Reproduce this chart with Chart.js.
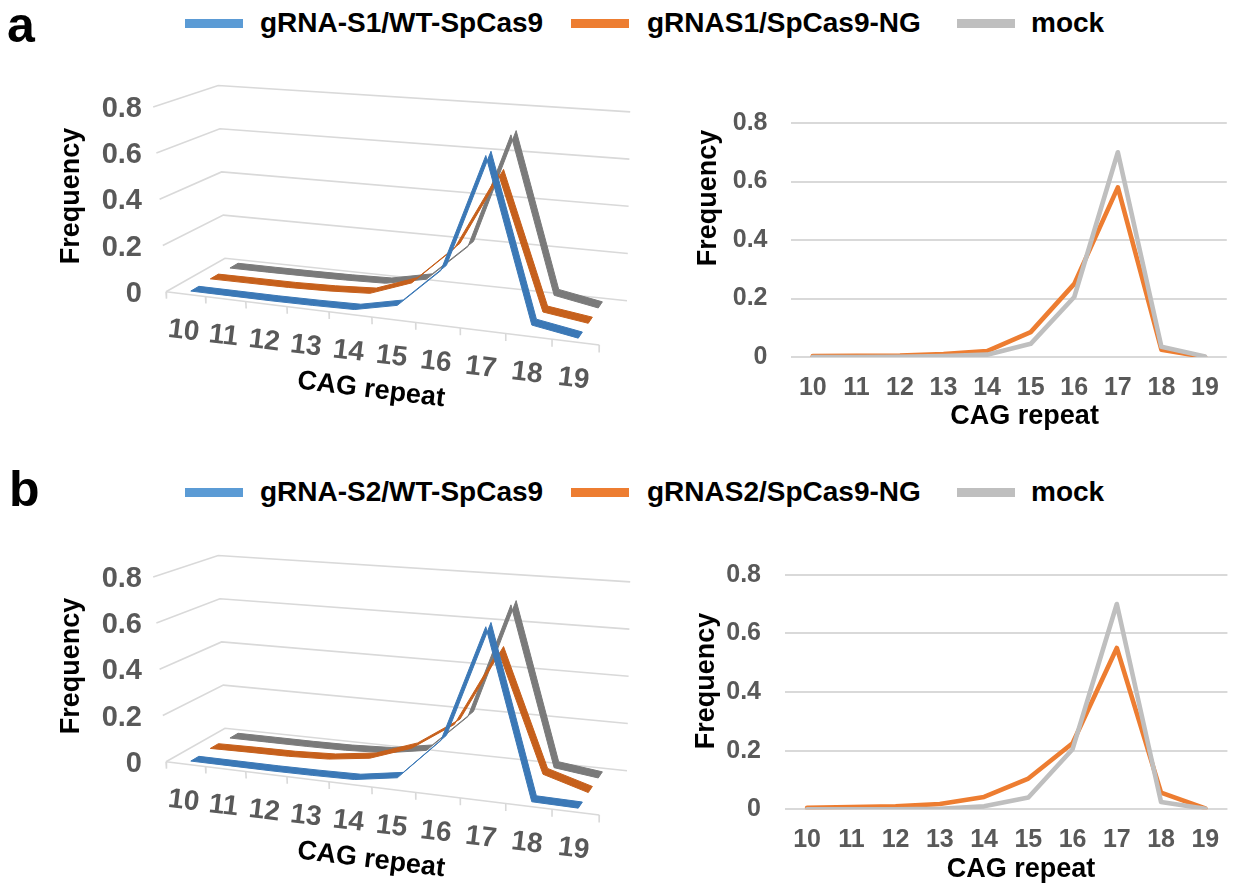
<!DOCTYPE html>
<html><head><meta charset="utf-8">
<script src="https://cdn.jsdelivr.net/npm/chart.js@4.4.1/dist/chart.umd.min.js"></script>
<style>
html,body{margin:0;padding:0;background:#fff;width:1235px;height:886px;overflow:hidden;font-family:"Liberation Sans",Arial,sans-serif;}
canvas{position:absolute;}
.panel{position:absolute;font-weight:bold;font-size:50px;line-height:1;color:#000;}
.item{position:absolute;font-weight:bold;font-size:28px;line-height:1;color:#000;white-space:nowrap;}
.sw{position:absolute;height:9px;width:58px;}
</style></head>
<body>
<div class="panel" style="left:7px;top:0px;">a</div>
<div class="panel" style="left:9px;top:464px;">b</div>
<div id="legA"></div><div id="legB"></div>
<canvas id="c3a" width="680" height="440" style="left:0;top:0;"></canvas>
<canvas id="c2a" width="555" height="370" style="left:680px;top:60px;"></canvas>
<canvas id="c3b" width="680" height="416" style="left:0;top:470px;"></canvas>
<canvas id="c2b" width="555" height="356" style="left:680px;top:530px;"></canvas>
<script>
// ---------- data ----------
const categories = ['10','11','12','13','14','15','16','17','18','19'];
const yTicks = [0, 0.2, 0.4, 0.6, 0.8];
const yTickLabels = ['0','0.2','0.4','0.6','0.8'];
const namesA = ['gRNA-S1/WT-SpCas9','gRNAS1/SpCas9-NG','mock'];
const namesB = ['gRNA-S2/WT-SpCas9','gRNAS2/SpCas9-NG','mock'];
const wtA   = [0.000, 0.000, 0.000, 0.002, 0.006, 0.045, 0.210, 0.700, 0.030, 0.000];
const ngA   = [0.003, 0.004, 0.005, 0.010, 0.020, 0.085, 0.250, 0.580, 0.025, 0.000];
const mockA = [0.000, 0.000, 0.001, 0.003, 0.008, 0.045, 0.205, 0.700, 0.035, 0.002];
const wtB   = [0.000, 0.000, 0.000, 0.002, 0.006, 0.035, 0.210, 0.695, 0.003, 0.000];
const ngB   = [0.005, 0.008, 0.010, 0.018, 0.042, 0.105, 0.225, 0.550, 0.057, 0.003];
const mockB = [0.000, 0.000, 0.000, 0.002, 0.010, 0.040, 0.205, 0.700, 0.025, 0.002];

// ---------- styles ----------
const legendColors = ['#5B9BD5','#ED7D31','#BFBFBF'];
const ribbonColors = ['#3b78b6','#c6601c','#7a7a7a'];
const FONT = '"Liberation Sans", Arial, sans-serif';

// ---------- legend (HTML text) ----------
function legend(id, names, top){
  const el = document.getElementById(id);
  const swLeft = [185, 571, 957], txLeft = [260, 647, 1031];
  names.forEach((n,i)=>{
    const s = document.createElement('div'); s.className='sw';
    s.style.left = swLeft[i]+'px'; s.style.top = (top+9.7)+'px'; s.style.background = legendColors[i];
    el.appendChild(s);
    const t = document.createElement('div'); t.className='item';
    t.style.left = txLeft[i]+'px'; t.style.top = top+'px'; t.textContent = n;
    el.appendChild(t);
  });
}
legend('legA', namesA, 9.3);
legend('legB', namesB, 478.3);

// ---------- 3D perspective projection (category X, depth Z 0..1, value v) ----------
const G = {A:[166,291.7], B:[225,258.3], C:[599.3,345], D:[627,300.7],
  sA:231, sB:216, sC:252, sD:236, lA:-16, lB:-8.5, lC:5, lD:4, c:0.11, nX:10};
function proj(X, Z, v){
  const t = X / G.nX, tx = t*(1+G.c*t)/(1+G.c);
  const fx = G.A[0]+tx*(G.C[0]-G.A[0]), fy = G.A[1]+tx*(G.C[1]-G.A[1]);
  const bx = G.B[0]+tx*(G.D[0]-G.B[0]), by = G.B[1]+tx*(G.D[1]-G.B[1]);
  const px = fx+Z*(bx-fx), py = fy+Z*(by-fy);
  const sf = G.sA+tx*(G.sC-G.sA), sb = G.sB+tx*(G.sD-G.sB), s = sf+Z*(sb-sf);
  const lf = G.lA+tx*(G.lC-G.lA), lb = G.lB+tx*(G.lD-G.lB), l = lf+Z*(lb-lf);
  return {x: px + v*l, y: py - v*s};
}
const depthZ = [0.16, 0.5, 0.84];
const ribbonW = 0.14;
function ribbon(vals, z){
  const pts = [];
  vals.forEach((v,i)=>pts.push(proj(i+0.5, z-ribbonW/2, v)));
  for(let i=vals.length-1;i>=0;i--) pts.push(proj(i+0.5, z+ribbonW/2, vals[i]));
  pts.push(pts[0]);
  return pts;
}

function build3D(id, series){
  const cv = document.getElementById(id);
  const W = cv.width, H = cv.height;
  const ds = [];
  const grid = {borderColor:'#d9d9d9', borderWidth:1.6, pointRadius:0, showLine:true, fill:false, order:100};
  yTicks.forEach(v=>ds.push(Object.assign({}, grid, {data:[proj(0,0,v), proj(0,1,v), proj(G.nX,1,v)]})));
  ds.push(Object.assign({}, grid, {data:[proj(0,0,0), proj(G.nX,0,0)]}));
  for(let k=0;k<=G.nX;k++) ds.push(Object.assign({}, grid, {data:[proj(k,0,0), proj(k,0,-0.03)]}));
  series.forEach((vals,j)=>ds.push({data:ribbon(vals, depthZ[j]), showLine:true, fill:'shape',
    backgroundColor:ribbonColors[j], borderColor:ribbonColors[j], borderWidth:1, pointRadius:0,
    order:10+10*j}));
  const labels3D = {id:'labels3D', afterDraw(chart){
    const ctx = chart.ctx; ctx.save();
    ctx.fillStyle = '#595959'; ctx.font = 'bold 29px '+FONT;
    ctx.textAlign = 'right'; ctx.textBaseline = 'middle';
    yTicks.forEach((v,i)=>{ const p = proj(0,0,v); ctx.fillText(yTickLabels[i], G.A[0]-24, p.y+2); });
    const ang = Math.atan2(G.C[1]-G.A[1], G.C[0]-G.A[0]);
    ctx.font = 'bold 28px '+FONT; ctx.textAlign = 'center';
    categories.forEach((c,i)=>{ const p = proj(i+0.5,0,0);
      ctx.save(); ctx.translate(p.x-2, p.y+37); ctx.rotate(ang); ctx.fillText(c,0,0); ctx.restore(); });
    ctx.fillStyle = '#000'; ctx.font = 'bold 27px '+FONT;
    ctx.save(); ctx.translate(72,196); ctx.rotate(-Math.PI/2); ctx.fillText('Frequency',0,0); ctx.restore();
    ctx.save(); ctx.translate(371,390); ctx.rotate(ang); ctx.fillText('CAG repeat',0,0); ctx.restore();
    ctx.restore();
  }};
  new Chart(cv, {type:'scatter', data:{datasets:ds},
    options:{responsive:false, animation:false, events:[], layout:{padding:0},
      plugins:{legend:{display:false}, tooltip:{enabled:false}},
      scales:{x:{type:'linear', min:0, max:W, display:false},
              y:{type:'linear', min:0, max:H, reverse:true, display:false}}},
    plugins:[labels3D]});
}

function build2D(id, ng, mock, L){
  const cv = document.getElementById(id);
  const titles = {id:'titles2D', afterDraw(chart){
    const ctx = chart.ctx; ctx.save();
    ctx.fillStyle = '#000'; ctx.font = 'bold 27px '+FONT; ctx.textAlign='center'; ctx.textBaseline='middle';
    ctx.save(); ctx.translate(L.fx, L.fy); ctx.rotate(-Math.PI/2); ctx.fillText('Frequency',0,0); ctx.restore();
    ctx.fillText('CAG repeat', L.cx, L.cy);
    ctx.restore();
  }};
  const common = {fill:false, pointRadius:0, borderWidth:4.6, tension:0, borderJoinStyle:'round', borderCapStyle:'round'};
  new Chart(cv, {type:'line',
    data:{labels:categories, datasets:[
      Object.assign({label:'ng', data:ng, borderColor:legendColors[1], order:2}, common),
      Object.assign({label:'mock', data:mock, borderColor:legendColors[2], order:1}, common)]},
    options:{responsive:false, animation:false, events:[],
      layout:{padding:{top:L.padTop, right:2, left:0, bottom:0}},
      plugins:{legend:{display:false}, tooltip:{enabled:false}},
      scales:{
        x:{type:'category', offset:true, grid:{display:false, drawTicks:false}, border:{display:false},
           ticks:{color:'#595959', font:{family:FONT, size:25, weight:'bold'}, padding:L.xPad, maxRotation:0, autoSkip:false},
           afterFit(s){ s.height = L.xH; }},
        y:{min:0, max:0.8, grid:{color:'#d9d9d9', lineWidth:2, drawTicks:false}, border:{display:false},
           afterBuildTicks(s){ s.ticks = yTicks.map(v=>({value:v})); },
           ticks:{color:'#595959', font:{family:FONT, size:25, weight:'bold'}, padding:L.yPad,
                  callback:(v,i)=>yTickLabels[i]},
           afterFit(s){ s.width = L.yW; }}
      }},
    plugins:[titles]});
}

build3D('c3a', [wtA, ngA, mockA]);
build3D('c3b', [wtB, ngB, mockB]);
build2D('c2a', ngA, mockA, {padTop:63, xH:73, yW:111, yPad:23.5, xPad:16, fx:28.6, fy:138, cx:344.6, cy:356.7});
build2D('c2b', ngB, mockB, {padTop:44.7, xH:76.7, yW:105, yPad:24, xPad:15.7, fx:26.5, fy:151, cx:341, cy:340});
</script>
</body></html>
